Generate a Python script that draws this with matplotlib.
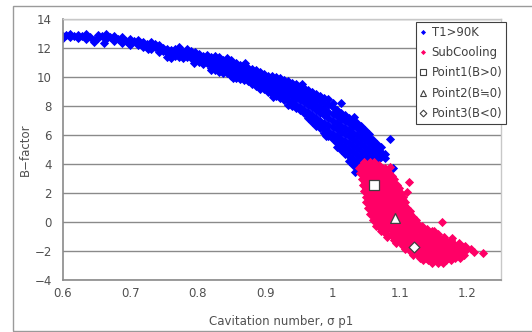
import matplotlib
matplotlib.use('Agg')
import matplotlib.pyplot as plt
from matplotlib.lines import Line2D
from matplotlib.patches import Rectangle

plt.rcParams['font.family'] = ['DejaVu Sans', 'Noto Sans CJK JP']

# ---------------- data ----------------
# T1>90K cloud, stored column by column: x of each column and the y values in it
blue_col_x = [0.600, 0.605, 0.610, 0.616, 0.622, 0.628, 0.634, 0.640, 0.646, 0.652,
              0.658, 0.664, 0.670, 0.676, 0.682, 0.688, 0.694, 0.700, 0.706, 0.712,
              0.718, 0.724, 0.730, 0.736, 0.742, 0.748, 0.754, 0.760, 0.766, 0.772,
              0.778, 0.784, 0.790, 0.796, 0.802, 0.808, 0.814, 0.820, 0.826, 0.832,
              0.838, 0.844, 0.850, 0.856, 0.862, 0.868, 0.874, 0.880, 0.886, 0.892,
              0.898, 0.904, 0.910, 0.916, 0.922, 0.928, 0.934, 0.940, 0.946, 0.952,
              0.958, 0.964, 0.970, 0.976, 0.982, 0.988, 0.994, 1.000, 1.006, 1.012,
              1.018, 1.024, 1.030, 1.036, 1.042, 1.048, 1.054, 1.060, 1.066, 1.072,
              1.078]
blue_col_y = [
    [12.80, 12.70], [12.88], [12.75, 12.95], [12.85], [12.92, 12.70],
    [12.80], [12.60, 12.95], [12.78], [12.55, 12.40], [12.90, 12.70],
    [12.80], [12.62, 12.95], [12.75], [12.85, 12.45], [12.60],
    [12.78, 12.35], [12.50], [12.65, 12.30], [12.48], [12.22, 12.55],
    [12.40, 12.10], [12.30], [12.15, 12.38, 11.95], [12.05, 12.25], [11.90, 12.20, 11.70],
    [12.00, 11.80], [11.65, 11.95, 11.40], [11.85, 11.55, 11.30], [11.70, 11.95, 11.45], [11.60, 11.35, 11.85, 12.05],
    [11.50, 11.75, 11.28], [11.65, 11.40, 11.95], [11.30, 11.55, 11.80], [11.45, 11.20, 11.70], [11.35, 11.05, 11.60],
    [11.15, 11.45, 10.90], [11.25, 11.00, 11.50],
    [10.80, 11.10, 10.60, 11.35, 10.45], [11.00, 10.70, 11.25, 10.45, 11.45], [10.85, 10.55, 11.15, 10.35, 11.38],
    [10.65, 10.95, 10.40, 11.20, 10.25], [10.80, 10.50, 11.05, 10.25, 11.30], [10.60, 10.30, 10.90, 10.10, 11.15],
    [10.45, 10.75, 10.15, 10.98, 9.95], [10.60, 10.30, 10.00, 10.85, 9.85], [10.40, 10.10, 10.65, 9.80, 10.85],
    [10.25, 9.95, 9.70, 10.45, 10.65], [10.10, 9.80, 10.35, 9.55, 10.55], [9.95, 9.65, 10.20, 9.40, 10.45],
    [9.80, 9.50, 10.05, 9.20, 10.35], [9.70, 9.40, 9.95, 9.15, 10.20], [9.85, 9.55, 9.25, 10.10, 9.00],
    [9.65, 9.35, 9.95, 9.10, 10.05, 8.85], [9.50, 9.20, 9.80, 8.95, 10.00, 8.70], [9.40, 9.10, 9.70, 8.80, 9.90, 8.55],
    [9.25, 8.95, 9.55, 8.65, 9.80, 8.40], [9.15, 8.85, 9.45, 8.40, 8.10, 9.70], [9.00, 8.70, 9.30, 8.25, 9.60, 8.00],
    [8.85, 8.55, 9.20, 8.10, 9.50, 7.85], [8.75, 8.40, 9.05, 7.90, 9.35, 7.70], [8.60, 8.25, 8.95, 7.75, 9.25, 7.50],
    [8.45, 8.10, 8.80, 7.60, 7.35, 7.15, 9.10], [8.30, 7.95, 8.65, 7.40, 7.10, 8.95, 6.90], [8.10, 7.75, 8.50, 7.20, 6.90, 8.80, 6.65],
    [7.95, 7.55, 8.35, 7.00, 6.65, 8.70, 6.45], [7.80, 7.40, 8.20, 6.80, 6.40, 6.15, 8.55], [7.60, 7.20, 8.05, 6.70, 6.25, 5.95, 8.45],
    [7.45, 7.00, 7.90, 6.55, 6.10, 5.75, 8.20], [7.30, 6.85, 7.70, 6.40, 5.90, 5.45, 5.15], [7.10, 6.65, 7.55, 6.20, 5.75, 5.30, 4.95],
    [6.95, 6.50, 7.35, 6.05, 5.60, 5.15, 4.70], [6.80, 6.35, 7.20, 5.90, 5.45, 5.00, 4.55, 4.20], [6.60, 6.15, 7.05, 5.70, 5.25, 4.80, 4.35, 3.95],
    [6.45, 6.00, 6.85, 5.55, 5.10, 4.65, 4.20, 3.70], [6.25, 5.80, 6.60, 5.35, 4.90, 4.45, 4.00], [6.05, 5.65, 6.35, 5.20, 4.75, 4.30],
    [5.85, 5.45, 6.10, 5.00, 4.55, 4.15], [5.65, 5.25, 4.85, 4.40], [5.40, 5.05, 4.65, 4.30], [5.15, 4.80, 4.45],
    [4.70, 4.40],
]
# isolated T1>90K points off the main band
blue_extra_x = [1.012, 1.032, 1.086, 1.090, 1.033, 0.661, 0.700, 0.726, 0.795,
                0.853, 0.870, 0.912, 0.955, 0.990]
blue_extra_y = [8.20, 7.25, 5.70, 3.75, 3.45, 12.35, 12.18, 11.95, 11.00,
                9.90, 10.98, 8.60, 9.55, 5.90]

# SubCooling cloud, stored row by row: y of each row and the x values in it
pink_row_y = [4.15, 3.95, 3.75, 3.55, 3.35, 3.15, 2.95, 2.75, 2.55, 2.35,
              2.15, 1.95, 1.75, 1.55, 1.35, 1.15, 0.95, 0.75, 0.55, 0.35,
              0.15, -0.05, -0.25, -0.45, -0.65, -0.85, -1.05, -1.25, -1.45, -1.65,
              -1.85, -2.05, -2.25, -2.45, -2.65, -2.85]
pink_row_x = [
    [1.047, 1.055, 1.062],
    [1.043, 1.052, 1.060, 1.069],
    [1.039, 1.048, 1.056, 1.065, 1.073, 1.078],
    [1.044, 1.052, 1.061, 1.069, 1.078],
    [1.041, 1.050, 1.058, 1.067, 1.075, 1.084],
    [1.046, 1.054, 1.063, 1.071, 1.080, 1.088],
    [1.043, 1.051, 1.060, 1.068, 1.077, 1.085, 1.091],
    [1.048, 1.056, 1.065, 1.073, 1.082, 1.090],
    [1.045, 1.053, 1.062, 1.070, 1.079, 1.087, 1.096],
    [1.050, 1.058, 1.067, 1.075, 1.084, 1.092, 1.099],
    [1.047, 1.055, 1.064, 1.072, 1.081, 1.089, 1.098],
    [1.052, 1.060, 1.069, 1.077, 1.086, 1.094, 1.102],
    [1.049, 1.057, 1.066, 1.074, 1.083, 1.091, 1.100, 1.105],
    [1.054, 1.062, 1.071, 1.079, 1.088, 1.096, 1.105],
    [1.050, 1.058, 1.067, 1.075, 1.084, 1.092, 1.101, 1.108],
    [1.055, 1.063, 1.072, 1.080, 1.089, 1.097, 1.106],
    [1.052, 1.060, 1.069, 1.077, 1.086, 1.094, 1.103, 1.111],
    [1.058, 1.066, 1.075, 1.083, 1.092, 1.100, 1.109, 1.115],
    [1.056, 1.064, 1.073, 1.081, 1.090, 1.098, 1.107, 1.115],
    [1.062, 1.070, 1.079, 1.087, 1.096, 1.104, 1.113, 1.120],
    [1.060, 1.068, 1.077, 1.085, 1.094, 1.102, 1.111, 1.119, 1.124],
    [1.066, 1.074, 1.083, 1.091, 1.100, 1.108, 1.117, 1.125],
    [1.065, 1.073, 1.082, 1.090, 1.099, 1.107, 1.116, 1.124, 1.133],
    [1.072, 1.080, 1.089, 1.097, 1.106, 1.114, 1.123, 1.131, 1.140],
    [1.072, 1.080, 1.089, 1.097, 1.106, 1.114, 1.123, 1.131, 1.140, 1.148],
    [1.080, 1.088, 1.097, 1.105, 1.114, 1.122, 1.131, 1.139, 1.148, 1.156],
    [1.081, 1.089, 1.098, 1.106, 1.115, 1.123, 1.132, 1.140, 1.149, 1.157, 1.166],
    [1.091, 1.099, 1.108, 1.116, 1.125, 1.133, 1.142, 1.150, 1.159, 1.167, 1.176],
    [1.094, 1.102, 1.111, 1.119, 1.128, 1.136, 1.145, 1.153, 1.162, 1.170, 1.179, 1.187],
    [1.104, 1.112, 1.121, 1.129, 1.138, 1.146, 1.155, 1.163, 1.172, 1.180, 1.189, 1.196],
    [1.107, 1.115, 1.124, 1.132, 1.141, 1.149, 1.158, 1.166, 1.175, 1.183, 1.192, 1.199],
    [1.117, 1.125, 1.134, 1.142, 1.151, 1.159, 1.168, 1.176, 1.185, 1.193],
    [1.119, 1.127, 1.136, 1.144, 1.153, 1.161, 1.170, 1.178, 1.187, 1.195],
    [1.130, 1.138, 1.147, 1.155, 1.164, 1.172, 1.181, 1.189],
    [1.134, 1.142, 1.151, 1.159, 1.168, 1.176],
    [1.148, 1.156, 1.164],
]
pink_extra_x = [1.086, 1.114, 1.110, 1.163, 1.150, 1.178, 1.193, 1.205, 1.210, 1.224]
pink_extra_y = [3.80, 2.76, 2.07, 0.00, -0.60, -1.10, -1.72, -1.85, -2.05, -2.14]

series_labels = ['T1>90K', 'SubCooling']
point_labels = ['Point1(B>0)', 'Point2(B≒0)', 'Point3(B<0)']
point_x = [1.062, 1.092, 1.121]
point_y = [2.55, 0.28, -1.72]

x_ticks = [0.6, 0.7, 0.8, 0.9, 1.0, 1.1, 1.2]
x_tick_labels = ['0.6', '0.7', '0.8', '0.9', '1', '1.1', '1.2']
y_ticks = [-4, -2, 0, 2, 4, 6, 8, 10, 12, 14]

# ---------------- build flat series ----------------
bx = [x for x, ys in zip(blue_col_x, blue_col_y) for _ in ys] + blue_extra_x
by = [y for ys in blue_col_y for y in ys] + blue_extra_y
px = [x for xs in pink_row_x for x in xs] + pink_extra_x
py = [y for y, xs in zip(pink_row_y, pink_row_x) for _ in xs] + pink_extra_y

BLUE = '#0000FF'
PINK = '#FF0066'
TXT = '#505050'

W, H = 532, 332
fig = plt.figure(figsize=(W / 100, H / 100), dpi=100)
fig.patch.set_facecolor('white')

# outer chart-area border
fig.patches.append(Rectangle((13 / W, 1 - 331 / H), 1.2, (331 - 6) / H,
                             transform=fig.transFigure, fill=False,
                             edgecolor='#9a9a9a', linewidth=1.0))

ax = fig.add_axes([63 / W, 1 - 280 / H, (501 - 63) / W, (280 - 19) / H])
ax.set_xlim(0.6, 1.25)
ax.set_ylim(-4, 14)

ax.scatter(bx, by, marker='D', s=22, c=BLUE, linewidths=0, zorder=2)
ax.scatter(px, py, marker='D', s=22, c=PINK, linewidths=0, zorder=3)

pt_markers = ['s', '^', 'D']
pt_sizes = [42, 50, 30]
for mx, my, mk, ms in zip(point_x, point_y, pt_markers, pt_sizes):
    ax.scatter([mx], [my], marker=mk, s=ms, facecolor='white',
               edgecolor='#404040', linewidths=0.9, zorder=5)

ax.set_xticks(x_ticks)
ax.set_xticklabels(x_tick_labels)
ax.set_yticks(y_ticks)
ax.set_yticklabels([str(v).replace('-', '\u2212') for v in y_ticks])
ax.tick_params(axis='both', length=0, labelsize=8.5, labelcolor=TXT)
ax.tick_params(axis='y', pad=8)
ax.tick_params(axis='x', pad=5)

ax.yaxis.grid(True, color='#8a8a8a', linewidth=1.0)
ax.set_axisbelow(True)
for side in ['left', 'bottom']:
    ax.spines[side].set_color('#8a8a8a')
    ax.spines[side].set_linewidth(1.2)
for side in ['top', 'right']:
    ax.spines[side].set_color('#c8c8c8')
    ax.spines[side].set_linewidth(1.0)

ax.set_xlabel('Cavitation number, \u03c3 p1', fontsize=8.5, color=TXT)
ax.set_ylabel('B\u2212factor', fontsize=8.5, color=TXT)
ax.xaxis.set_label_coords(0.497, -0.135)
ax.yaxis.set_label_coords(-0.072, 0.5)

handles = [
    Line2D([], [], marker='D', ls='none', markersize=2.6, color=BLUE, markeredgewidth=0),
    Line2D([], [], marker='D', ls='none', markersize=2.6, color=PINK, markeredgewidth=0),
    Line2D([], [], marker='s', ls='none', markersize=4.6, markerfacecolor='white',
           markeredgecolor='#404040', markeredgewidth=0.8),
    Line2D([], [], marker='^', ls='none', markersize=4.6, markerfacecolor='white',
           markeredgecolor='#404040', markeredgewidth=0.8),
    Line2D([], [], marker='D', ls='none', markersize=3.4, markerfacecolor='white',
           markeredgecolor='#404040', markeredgewidth=0.8),
]
leg = ax.legend(handles, series_labels + point_labels, loc='upper left',
                bbox_to_anchor=(416 / W, 1 - 22 / H), bbox_transform=fig.transFigure,
                fontsize=8.4, frameon=True, fancybox=False, edgecolor='#404040',
                framealpha=1, borderpad=0.34, labelspacing=0.62, handlelength=0.6,
                handletextpad=0.4, borderaxespad=0)
leg.get_frame().set_linewidth(0.8)
for t in leg.get_texts():
    t.set_color('#404040')
leg.set_zorder(10)

fig.savefig('out.png', dpi=100, facecolor='white')
